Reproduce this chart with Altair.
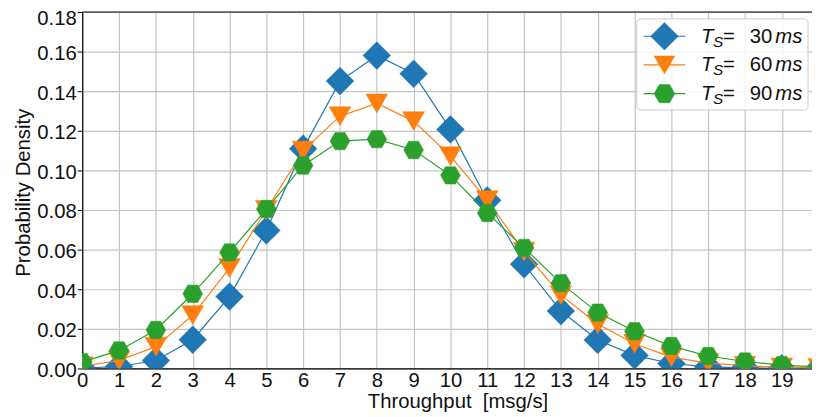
import altair as alt
import pandas as pd

# ---------------- data ----------------
x_values = list(range(21))
ts_30 = [0.0001, 0.0010, 0.0040, 0.0145, 0.0363, 0.0697, 0.1110, 0.1451, 0.1580, 0.1488,
         0.1207, 0.0849, 0.0526, 0.0290, 0.0144, 0.0066, 0.0025, 0.0008, 0.0003, 0.0001, 0.0000]
ts_60 = [0.0012, 0.0040, 0.0110, 0.0269, 0.0507, 0.0800, 0.1100, 0.1274, 0.1338, 0.1249,
         0.1072, 0.0850, 0.0590, 0.0370, 0.0224, 0.0125, 0.0057, 0.0027, 0.0014, 0.0005, 0.0002]
ts_90 = [0.0032, 0.0091, 0.0194, 0.0377, 0.0586, 0.0805, 0.1025, 0.1148, 0.1158, 0.1103,
         0.0975, 0.0785, 0.0609, 0.0431, 0.0282, 0.0188, 0.0113, 0.0063, 0.0035, 0.0017, 0.0008]
series_names = ["30", "60", "90"]
series_colors = ["#1f77b4", "#ff7f0e", "#2ca02c"]
x_ticks = list(range(20))
y_ticks = [0.0, 0.02, 0.04, 0.06, 0.08, 0.10, 0.12, 0.14, 0.16, 0.18]
x_title = "Throughput \u00a0[msg/s]"
y_title = "Probability Density"

rows = []
for name, vals in zip(series_names, [ts_30, ts_60, ts_90]):
    for xv, yv in zip(x_values, vals):
        rows.append({"x": xv, "y": yv, "series": name})
df = pd.DataFrame(rows)
one = pd.DataFrame({"a": [0]})

# ---------------- styling ----------------
W, H = 737, 360
FONT = "Liberation Sans"
FS = 20.5
TXT = "#111111"
GRID = "#c4c4c4"
HEX = "M-1,0L-0.5,-0.88L0.5,-0.88L1,0L0.5,0.88L-0.5,0.88Z"
shapes = ["diamond", "triangle-down", HEX]
sizes = [784, 484, 400]
leg_sizes = [784, 441, 441]

x_enc = alt.X(
    "x:Q",
    scale=alt.Scale(domain=[0, 19.82], nice=False, zero=False),
    axis=alt.Axis(
        values=x_ticks, format="d", title=x_title,
        grid=True, gridColor=GRID, gridWidth=1.2,
        domain=True, domainColor="black", domainWidth=1.2,
        ticks=False, tickSize=0, labelPadding=2,
        labelFont=FONT, labelFontSize=FS, labelColor=TXT,
        titleFont=FONT, titleFontSize=FS, titleFontWeight="normal", titleColor=TXT,
        titleX=379, titleY=39, titleBaseline="alphabetic", titleAlign="center",
        labelFlush=False,
    ),
)
y_enc = alt.Y(
    "y:Q",
    scale=alt.Scale(domain=[0, 0.18], nice=False, zero=True),
    axis=alt.Axis(
        values=y_ticks, format=".2f", title=y_title,
        grid=True, gridColor=GRID, gridWidth=1.2,
        domain=True, domainColor="black", domainWidth=1.2,
        ticks=True, tickSize=5, tickColor="black", tickWidth=1,
        labelPadding=1, labelBaseline="middle",
        labelOffset={"condition": {"test": "datum.value > 0.179", "value": 7}, "value": 2},
        labelFont=FONT, labelFontSize=FS, labelColor=TXT,
        titleFont=FONT, titleFontSize=FS, titleFontWeight="normal", titleColor=TXT,
        titleX=-53, titleY=182, titleAngle=270, titleBaseline="alphabetic", titleAlign="center",
        labelFlush=False,
    ),
)

layers = []
for name, col, shp, sz in zip(series_names, series_colors, shapes, sizes):
    base = alt.Chart(df).transform_filter(alt.datum.series == name)
    layers.append(base.mark_line(color=col, strokeWidth=1.2, clip=True).encode(x=x_enc, y=y_enc))
    layers.append(
        base.mark_point(shape=shp, size=sz, filled=True, fill=col, stroke=col, strokeWidth=0.5,
                        opacity=1, clip=True).encode(x=x_enc, y=y_enc)
    )

# top spine
layers.append(
    alt.Chart(one).mark_rule(color="black", strokeWidth=1.2)
    .encode(x=alt.value(0), x2=alt.value(W), y=alt.value(0))
)

# ---------------- legend ----------------
layers.append(
    alt.Chart(one).mark_rect(fill="white", fillOpacity=0.85, stroke="#cccccc", strokeWidth=1,
                             cornerRadius=4)
    .encode(x=alt.value(560), x2=alt.value(733), y=alt.value(7), y2=alt.value(99))
)
row_y = [24.5, 53.5, 82.5]
for name, col, shp, sz, yc in zip(series_names, series_colors, shapes, leg_sizes, row_y):
    layers.append(
        alt.Chart(one).mark_rule(color=col, strokeWidth=1.2)
        .encode(x=alt.value(567), x2=alt.value(609), y=alt.value(yc))
    )
    layers.append(
        alt.Chart(one).mark_point(shape=shp, size=sz, filled=True, fill=col, stroke=col,
                                  strokeWidth=0.5, opacity=1)
        .encode(x=alt.value(588), y=alt.value(yc))
    )
    parts = [
        ("T", 625, yc + 6.5, FS, "italic", "left"),
        ("S", 637, yc + 10.5, 15.5, "italic", "left"),
        ("=", 647, yc + 6.5, FS, "normal", "left"),
        (name, 697, yc + 6.5, FS, "normal", "right"),
        ("ms", 700, yc + 6.5, FS, "italic", "left"),
    ]
    for txt, px, py, fs, style, al in parts:
        layers.append(
            alt.Chart(one).mark_text(font=FONT, fontSize=fs, fontStyle=style, align=al,
                                     baseline="alphabetic", color=TXT)
            .encode(x=alt.value(px), y=alt.value(py), text=alt.value(txt))
        )

chart = (
    alt.layer(*layers)
    .properties(
        width=W, height=H,
        autosize=alt.AutoSizeParams(type="none"),
        padding={"left": 75, "top": 2, "right": 0, "bottom": 47},
    )
    .configure_view(stroke=None)
)

chart.save("out.html", embed_options={"renderer": "svg", "actions": False})
